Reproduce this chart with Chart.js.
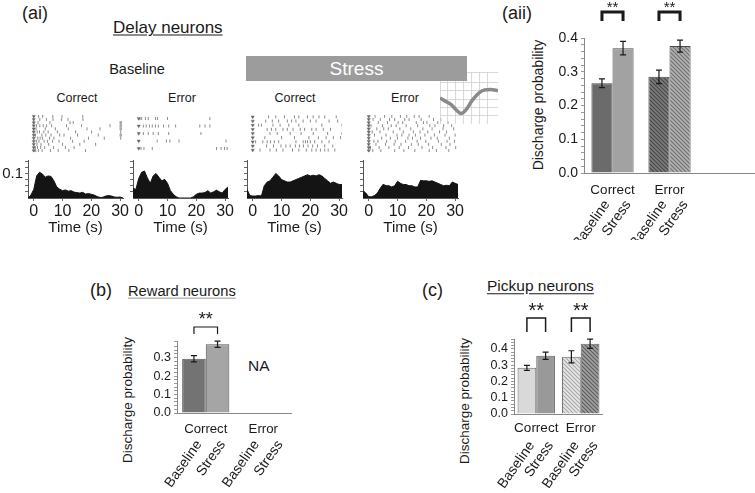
<!DOCTYPE html>
<html>
<head>
<meta charset="utf-8">
<script src="https://cdn.jsdelivr.net/npm/chart.js@4.4.1/dist/chart.umd.min.js"></script>
<style>
  body { margin: 0; background: #fff; }
  #fig { position: relative; width: 755px; height: 493px; overflow: hidden;
         font-family: Arial, "Liberation Sans", sans-serif; color: #1a1a1a; background: #fff; }
  #fig canvas { position: absolute; }
  .t { position: absolute; white-space: nowrap; line-height: 1; }
  .c { transform: translate(-50%, -50%); }
  .l { transform: translateY(-50%); }
  .v { transform: translate(-50%, -50%) rotate(-90deg); }
  .u { text-decoration: underline; text-underline-offset: 2px; }
  #stress { position: absolute; left: 246px; top: 56px; width: 221px; height: 25px; background: #9c9c9c;
            color: #fff; font-size: 19px; line-height: 25px; text-align: center; z-index: 2; }
</style>
</head>
<body>
<div id="fig">
  <div class="t l" style="left:22px;top:13px;font-size:18px">(ai)</div>
  <div class="t l u" style="left:113px;top:27px;font-size:17px">Delay neurons</div>
  <div class="t c" style="left:137px;top:69px;font-size:14.5px">Baseline</div>
  <div id="stress">Stress</div>
  <div class="t c" style="left:77px;top:98px;font-size:12.5px">Correct</div>
  <div class="t c" style="left:182px;top:98px;font-size:12.5px">Error</div>
  <div class="t c" style="left:295px;top:98px;font-size:12.5px">Correct</div>
  <div class="t c" style="left:405px;top:98px;font-size:12.5px">Error</div>

  <div class="t l" style="left:502px;top:13px;font-size:18px">(aii)</div>
  <div class="t v" style="left:538px;top:105px;font-size:14px">Discharge probability</div>

  <div class="t l" style="left:90px;top:290px;font-size:18px">(b)</div>
  <div class="t l u" style="left:128px;top:291px;font-size:14.7px;text-decoration-color:#999">Reward neurons</div>
  <div class="t l" style="left:248px;top:366px;font-size:15.5px">NA</div>
  <div class="t v" style="left:128px;top:400px;font-size:13.5px">Discharge probability</div>

  <div class="t l" style="left:422px;top:290px;font-size:18px">(c)</div>
  <div class="t l u" style="left:487px;top:286px;font-size:15.5px">Pickup neurons</div>
  <div class="t v" style="left:465px;top:401px;font-size:13.5px">Discharge probability</div>
</div>

<script>
// ---- data ----
// peri-event histograms, 1-s bins, delay neurons
const psthTime = [-2, -1, 0, 1, 2, 3, 4, 5, 6, 7, 8, 9, 10, 11, 12, 13, 14, 15, 16, 17, 18, 19, 20, 21, 22, 23, 24, 25, 26, 27, 28, 29, 30, 31];
const psthCorrectBaseline = [0.0, 0.012, 0.035, 0.09, 0.105, 0.098, 0.085, 0.09, 0.088, 0.07, 0.045, 0.036, 0.03, 0.033, 0.028, 0.03, 0.024, 0.022, 0.02, 0.023, 0.016, 0.018, 0.015, 0.012, 0.006, 0.002, 0.003, 0.008, 0.01, 0.008, 0.004, 0.003, 0.004, 0.0];
const psthErrorBaseline = [0.04, 0.035, 0.08, 0.105, 0.11, 0.082, 0.06, 0.09, 0.1, 0.085, 0.07, 0.076, 0.06, 0.03, 0.015, 0.005, 0.0, 0.0, 0.0, 0.0, 0.0, 0.005, 0.015, 0.02, 0.02, 0.022, 0.03, 0.02, 0.025, 0.032, 0.025, 0.02, 0.035, 0.045];
const psthCorrectStress = [0.035, 0.01, 0.008, 0.008, 0.01, 0.008, 0.05, 0.065, 0.07, 0.085, 0.1, 0.09, 0.075, 0.07, 0.065, 0.065, 0.07, 0.075, 0.08, 0.085, 0.09, 0.095, 0.09, 0.093, 0.09, 0.095, 0.09, 0.08, 0.07, 0.06, 0.065, 0.06, 0.055, 0.055];
const psthErrorStress = [0.03, 0.02, 0.005, 0.005, 0.01, 0.02, 0.04, 0.056, 0.05, 0.05, 0.045, 0.05, 0.068, 0.06, 0.055, 0.055, 0.05, 0.05, 0.045, 0.045, 0.072, 0.07, 0.07, 0.068, 0.07, 0.065, 0.06, 0.055, 0.05, 0.052, 0.05, 0.065, 0.06, 0.055];
const timeTicks = [0, 10, 20, 30];
const psthYTicks = [0.025, 0.05, 0.075, 0.1, 0.125, 0.15];

// spike rasters (s), one array per trial
const rasterCorrectBaseline = [
  [1.7, 3.1, 6.6, 9.8, 17],
  [2.1, 4.4, 6.7, 9.6, 11.9, 17.1],
  [1.5, 5.6, 12.6, 13.7, 30, 30.4],
  [1.0, 2.1, 3.3, 4.4, 6.2, 11.4, 16.6, 26.5, 30, 30.4],
  [0.8, 4.0, 7.5, 12.0, 18.5, 23, 30, 30.4],
  [1.2, 2.0, 3.5, 5.0, 8.2, 14.5, 20.1, 30.2],
  [0.6, 2.8, 4.2, 6.0, 9.0, 10.5, 15.2, 22.4, 30, 30.4],
  [1.4, 2.2, 3.0, 5.5, 7.0, 12.8, 19.0, 24.5, 30.2],
  [0.9, 1.8, 3.6, 4.8, 6.5, 8.8, 13.5, 17.5],
  [1.1, 2.5, 5.2, 10.0, 16.0, 21.5],
  [0.5, 1.3, 2.4, 3.8, 6.9, 11.0, 14.0],
  [0.7, 1.6, 2.9, 5.8, 8.5, 12.2, 18.0]
];
const rasterErrorBaseline = [
  [0.4, 1.0, 2.3, 3.3, 5.8, 6.5, 10, 24.7],
  [1.6, 2.6, 3.7, 4.7, 5.8, 6.8, 8.6, 10.4, 12.8, 21.2, 23, 24.7],
  [1.6, 3.3, 5, 6.8, 10.4, 21.6],
  [6.4, 9.6, 10.8, 14, 30.3],
  [0.8, 1.8, 4.7, 27, 28.6, 29.8, 30.7]
];
const rasterCorrectStress = [
  [5.5, 8, 11, 14.5, 16, 19, 21, 23, 25, 29],
  [4.5, 6.8, 9, 12, 13.5, 15, 17.5, 20, 22, 26.5, 29.5],
  [2, 3, 7, 9.5, 12.5, 16, 24, 31],
  [5, 6.5, 8, 10.5, 12, 14, 16.5, 18, 20.5, 22, 24.5, 27],
  [6, 8.5, 13, 16.8, 21, 26, 31],
  [4.2, 10, 14.5, 19.5, 22.8, 25.5, 28, 30.5],
  [1, 3.5, 5, 6.2, 7.5, 9, 15, 17.5, 18.3, 19, 20, 21.5, 24, 26.5],
  [4.8, 7.2, 9.8, 11.5, 13, 14.8, 16.2, 17.6, 19.2, 20.8, 22.5, 25, 27.8],
  [2.5, 6, 8.2, 10.5, 13.8, 16, 18.6, 20.5, 22, 23.5, 25, 26.2, 28.5]
];
const rasterErrorStress = [
  [2.2, 5.5, 8, 11, 13.2, 15.8, 17.5, 21],
  [1.5, 4, 7.2, 9, 12.5, 14, 18.2, 22.5, 25],
  [3.3, 6.5, 10.2, 11.8, 16.5, 19, 20.2, 24, 27.5],
  [0.8, 4.8, 7.8, 9.5, 13, 17, 21.2, 23, 26, 28.8],
  [2.8, 5.2, 6.8, 10.8, 14.6, 18.8, 22, 25.8, 29.5],
  [1.2, 3.9, 8.5, 12, 15.5, 17.8, 20.5, 24.6, 27],
  [2, 6, 9.8, 11.5, 14, 16.2, 19.5, 22.8, 26.5, 30],
  [4.5, 7.5, 10, 13.6, 15.2, 18, 21.6, 23.8, 28],
  [1.8, 3.2, 6.2, 9.2, 12.8, 16.8, 19.8, 24.2, 27.2, 29.8],
  [2.5, 5.8, 8.8, 11.2, 14.8, 17.2, 20.8, 25.2, 28.2],
  [0.6, 3.6, 7, 10.6, 13.8, 18.5, 22.2, 26.8, 30.2],
  [1.4, 4.2, 9, 12.2, 16, 21, 23.5, 27.8]
];

// example spike waveform (inset)
const waveSample = [0, 1, 2, 3, 4, 5, 6, 7, 8, 9, 10, 11];
const waveAmp = [-15, -18, -21, -26, -30, -26, -18, -12, -8, -7, -7, -8];

// discharge probability, mean and s.e.m.
const groups = ['Correct', 'Error'];
const delayBaseline = [0.266, 0.285];
const delayStress = [0.37, 0.376];
const delayBaselineErr = [0.013, 0.02];
const delayStressErr = [0.02, 0.018];

const rewardBaseline = [0.294, null];
const rewardStress = [0.372, null];
const rewardBaselineErr = [0.017, null];
const rewardStressErr = [0.017, null];

const pickupBaseline = [0.283, 0.351];
const pickupStress = [0.357, 0.431];
const pickupBaselineErr = [0.015, 0.037];
const pickupStressErr = [0.022, 0.028];

// ---- drawing ----
const FONT = 'Arial, "Liberation Sans", sans-serif';
Chart.defaults.font.family = FONT;
Chart.defaults.color = '#1a1a1a';

function place(left, top, w, h) {
  const c = document.createElement('canvas');
  c.width = w; c.height = h;
  c.style.left = left + 'px';
  c.style.top = top + 'px';
  document.getElementById('fig').appendChild(c);
  return c.getContext('2d');
}

function hatch(bg, fg) {
  const c = document.createElement('canvas');
  c.width = 4; c.height = 4;
  const g = c.getContext('2d');
  g.fillStyle = bg; g.fillRect(0, 0, 4, 4);
  g.strokeStyle = fg; g.lineWidth = 1.1;
  g.beginPath();
  g.moveTo(0, 0); g.lineTo(4, 4);
  g.moveTo(-1, 3); g.lineTo(1, 5);
  g.moveTo(3, -1); g.lineTo(5, 1);
  g.stroke();
  return g.createPattern(c, 'repeat');
}

const quiet = { legend: { display: false }, tooltip: { enabled: false } };

function psth(left, yW, values, showLabel) {
  new Chart(place(left, 155, yW + 103, 82), {
    type: 'line',
    data: { datasets: [{
      data: values.map((v, i) => ({ x: psthTime[i], y: v })),
      fill: 'origin', backgroundColor: '#141414', borderColor: '#141414',
      borderWidth: 1, pointRadius: 0, tension: 0
    }] },
    options: {
      responsive: false, animation: false, devicePixelRatio: 1,
      layout: { padding: { top: 4, right: 8 } },
      plugins: quiet,
      scales: {
        x: {
          type: 'linear', min: -2, max: 31,
          afterBuildTicks: s => { s.ticks = timeTicks.map(v => ({ value: v })); },
          afterFit: s => { s.height = 39; },
          grid: { drawOnChartArea: false, tickLength: 3, color: '#666' },
          border: { color: '#555' },
          ticks: { font: { size: 16 }, padding: 1, maxRotation: 0, autoSkip: false },
          title: { display: true, text: 'Time (s)', font: { size: 15 }, padding: 0 }
        },
        y: {
          min: 0, max: 0.155,
          afterBuildTicks: s => { s.ticks = psthYTicks.map(v => ({ value: v })); },
          afterFit: s => { s.width = yW; },
          grid: { drawOnChartArea: false, tickLength: 3, color: '#666' },
          border: { color: '#555' },
          ticks: { font: { size: 15, lineHeight: 0.4 }, padding: 2, autoSkip: false,
                   callback: v => (showLabel && v === 0.1) ? '0.1' : '' }
        }
      }
    }
  });
}

function raster(left, yW, rows) {
  const spikes = [], cues = [];
  rows.forEach((row, r) => {
    cues.push({ x: 0, y: r });
    row.forEach(t => spikes.push({ x: t, y: r }));
  });
  new Chart(place(left, 110, yW + 103, 47), {
    type: 'scatter',
    data: { datasets: [
      { data: spikes, pointStyle: 'line', pointRotation: 90, pointRadius: 1.5,
        pointBorderColor: '#6e6e6e', pointBorderWidth: 0.8 },
      { data: cues, pointStyle: 'triangle', pointRotation: 180, pointRadius: 1.8,
        pointBackgroundColor: '#666', pointBorderColor: '#666', pointBorderWidth: 0.5 }
    ] },
    options: {
      responsive: false, animation: false, devicePixelRatio: 1,
      layout: { padding: { left: yW, right: 8, top: 3, bottom: 3 } },
      plugins: quiet,
      scales: {
        x: { display: false, min: -2, max: 31 },
        y: { display: false, min: -0.5, max: rows.length - 0.5, reverse: true }
      }
    }
  });
}

psth(0, 28, psthCorrectBaseline, true);
psth(125, 8, psthErrorBaseline, false);
psth(239, 8, psthCorrectStress, false);
psth(355, 8, psthErrorStress, false);
raster(0, 28, rasterCorrectBaseline);
raster(125, 8, rasterErrorBaseline);
raster(239, 8, rasterCorrectStress);
raster(355, 8, rasterErrorStress);

// inset waveform on its grid
new Chart(place(440, 72, 58, 52), {
  type: 'line',
  data: { datasets: [{
    data: waveSample.map((t, i) => ({ x: t, y: waveAmp[i] })),
    borderColor: '#8a8a8a', borderWidth: 3.5, pointRadius: 0, tension: 0.4
  }] },
  options: {
    responsive: false, animation: false, devicePixelRatio: 1,
    layout: { padding: 0 },
    plugins: quiet,
    scales: {
      x: { type: 'linear', min: 0, max: 11, ticks: { display: false, stepSize: 1.5 },
           grid: { color: '#d0d0d0', drawTicks: false, lineWidth: 0.8 }, border: { display: false } },
      y: { min: -40, max: 10, ticks: { display: false, stepSize: 8 },
           grid: { color: '#d0d0d0', drawTicks: false, lineWidth: 0.8 }, border: { display: false } }
    }
  }
});

// error bars, significance brackets and condition labels for the bar panels
const barExtras = {
  id: 'barExtras',
  afterDraw(chart, args, o) {
    const ctx = chart.ctx, ys = chart.scales.y, base = chart.chartArea.bottom;
    const m0 = chart.getDatasetMeta(0).data, m1 = chart.getDatasetMeta(1).data;
    ctx.save();
    ctx.strokeStyle = '#1a1a1a';
    ctx.fillStyle = '#1a1a1a';
    chart.data.datasets.forEach((ds, d) => {
      chart.getDatasetMeta(d).data.forEach((el, i) => {
        const v = ds.data[i], e = o.errors[d][i];
        if (v == null) return;
        const yT = ys.getPixelForValue(v + e), yB = ys.getPixelForValue(v - e);
        ctx.lineWidth = 1.2;
        ctx.beginPath();
        ctx.moveTo(el.x, yT); ctx.lineTo(el.x, yB);
        ctx.moveTo(el.x - 3, yT); ctx.lineTo(el.x + 3, yT);
        ctx.moveTo(el.x - 3, yB); ctx.lineTo(el.x + 3, yB);
        ctx.stroke();
      });
    });
    ctx.textAlign = 'center';
    ctx.textBaseline = 'middle';
    o.sig.forEach(i => {
      const a = m0[i].x, b = m1[i].x;
      ctx.lineWidth = o.bracketWidth;
      ctx.beginPath();
      ctx.moveTo(a, o.bracket[1]); ctx.lineTo(a, o.bracket[0]);
      ctx.lineTo(b, o.bracket[0]); ctx.lineTo(b, o.bracket[1]);
      ctx.stroke();
      ctx.font = o.starSize + 'px ' + FONT;
      ctx.fillText('**', (a + b) / 2, o.starY);
    });
    ctx.font = '14px ' + FONT;
    ctx.textAlign = 'right';
    chart.data.labels.forEach((lab, i) => {
      if (!lab) return;
      [m0, m1].forEach((m, d) => {
        ctx.save();
        ctx.translate(m[i].x + 5, base + o.condDy);
        ctx.rotate(-55 * Math.PI / 180);
        ctx.fillText(chart.data.datasets[d].label, 0, 0);
        ctx.restore();
      });
    });
    ctx.restore();
  }
};

function bars(c) {
  new Chart(place(c.left, c.top, c.w, c.h), {
    type: 'bar',
    data: { labels: c.labels, datasets: [
      { label: 'Baseline', data: c.base, backgroundColor: c.baseFill, borderColor: c.edge, borderWidth: 1 },
      { label: 'Stress', data: c.stress, backgroundColor: c.stressFill, borderColor: c.edge, borderWidth: 1 }
    ] },
    options: {
      responsive: false, animation: false, devicePixelRatio: 1,
      layout: { padding: { top: c.padTop, right: c.padRight } },
      datasets: { bar: { categoryPercentage: c.catPct, barPercentage: 1 } },
      plugins: Object.assign({ barExtras: c.extras }, quiet),
      scales: {
        x: {
          grid: { display: false, drawTicks: false },
          border: { color: '#888' },
          ticks: { font: { size: c.labelSize }, padding: c.labelPad, maxRotation: 0, autoSkip: false },
          afterFit: s => { s.height = c.xH; }
        },
        y: {
          min: 0, max: c.max,
          ticks: { stepSize: 0.02, font: { size: c.tickSize }, padding: 3, autoSkip: false,
                   callback: v => Math.abs(Math.round(v * 10) - v * 10) < 1e-6 ? v.toFixed(1) : '' },
          grid: { drawOnChartArea: false, tickLength: 3, color: '#999' },
          border: { color: '#888' },
          afterFit: s => { s.width = c.yW; }
        }
      }
    },
    plugins: [barExtras]
  });
}

// (aii) delay neurons
bars({
  left: 550, top: 0, w: 205, h: 240, yW: 34, padTop: 38, padRight: 0, xH: 67, max: 0.4,
  labels: groups.concat(['']), catPct: 0.74,
  base: delayBaseline.concat([null]), stress: delayStress.concat([null]),
  baseFill: ['#6b6b6b', hatch('#7c7c7c', '#474747')],
  stressFill: ['#a2a2a2', hatch('#b3b3b3', '#6e6e6e')],
  edge: '#4a4a4a', labelSize: 13.5, labelPad: 9, tickSize: 14,
  extras: { errors: [delayBaselineErr, delayStressErr], sig: [0, 1], bracket: [12, 21],
            bracketWidth: 3, starY: 8, starSize: 15, condDy: 29 }
});

// (b) reward neurons
bars({
  left: 145, top: 280, w: 147, h: 213, yW: 32, padTop: 61, padRight: 0, xH: 80, max: 0.39,
  labels: groups, catPct: 0.82,
  base: rewardBaseline, stress: rewardStress,
  baseFill: '#737373', stressFill: '#a5a5a5',
  edge: '#555', labelSize: 13.2, labelPad: 8, tickSize: 12.5,
  extras: { errors: [rewardBaselineErr, rewardStressErr], sig: [0], bracket: [47, 54],
            bracketWidth: 1.2, starY: 40, starSize: 18, condDy: 29 }
});

// (c) pickup neurons
bars({
  left: 480, top: 280, w: 123, h: 213, yW: 34, padTop: 59, padRight: 0, xH: 79, max: 0.46,
  labels: groups, catPct: 0.84,
  base: pickupBaseline, stress: pickupStress,
  baseFill: ['#d9d9d9', hatch('#e6e6e6', '#a8a8a8')],
  stressFill: ['#999999', hatch('#a0a0a0', '#5e5e5e')],
  edge: '#666', labelSize: 13.5, labelPad: 6, tickSize: 12.5,
  extras: { errors: [pickupBaselineErr, pickupStressErr], sig: [0, 1], bracket: [38, 52],
            bracketWidth: 1.5, starY: 31, starSize: 20, condDy: 29 }
});
</script>
</body>
</html>
